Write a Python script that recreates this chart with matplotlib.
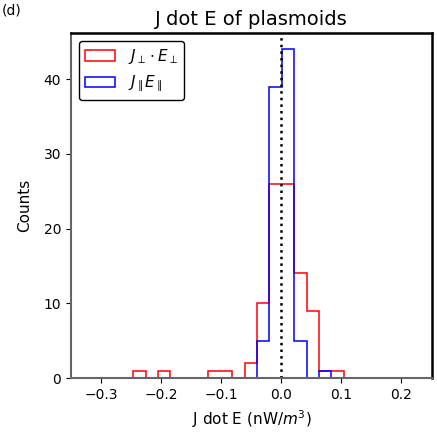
import numpy as np
import matplotlib
matplotlib.use('Agg')
import matplotlib.pyplot as plt

# bin edges of the histograms (nW/m^3)
bin_start = -0.2462
bin_width = 0.02065
n_bins = 17
edges = bin_start + bin_width*np.arange(n_bins+1)
centers = 0.5*(edges[:-1]+edges[1:])

# counts per bin
perp_counts = [1, 0, 1, 0, 0, 0, 1, 1, 0, 2, 10, 26, 26, 14, 9, 1, 1]
par_counts  = [0, 0, 0, 0, 0, 0, 0, 0, 0, 0, 5, 39, 44, 5, 0, 1, 0]

fig = plt.figure(figsize=(4.37,4.32), dpi=100)
ax = fig.add_axes([0.1625, 0.125, 0.8261, 0.7986])

ax.hist(centers, bins=edges, weights=perp_counts, histtype='step', color='r', lw=1.1,
        label=r'$J_\perp \cdot E_\perp$')
ax.hist(centers, bins=edges, weights=par_counts, histtype='step', color='b', lw=1.1,
        label=r'$J_\parallel E_\parallel$')
ax.axvline(0, color='k', ls=':', lw=1.8)

ax.set_xlim(-0.35, 0.252)
ax.set_ylim(0, 46.2)
ax.set_xticks([-0.3,-0.2,-0.1,0.0,0.1,0.2])
ax.set_yticks([0,10,20,30,40])
ax.tick_params(labelsize=10, color='k')

for s in ['left','bottom']:
    ax.spines[s].set_color('#666666')
    ax.spines[s].set_linewidth(1.5)
for s in ['top','right']:
    ax.spines[s].set_color('k')
    ax.spines[s].set_linewidth(1.8)

ax.set_title('J dot E of plasmoids', fontsize=14)
ax.set_xlabel(r'J dot E (nW/$m^3$)', fontsize=11, labelpad=5)
ax.set_ylabel('Counts', fontsize=11, labelpad=8)
leg = ax.legend(loc='upper left', fontsize=11, framealpha=1, edgecolor='k')
fig.text(0.004, 0.993, '(d)', fontsize=10, va='top')

plt.savefig('out.png', format='png')
